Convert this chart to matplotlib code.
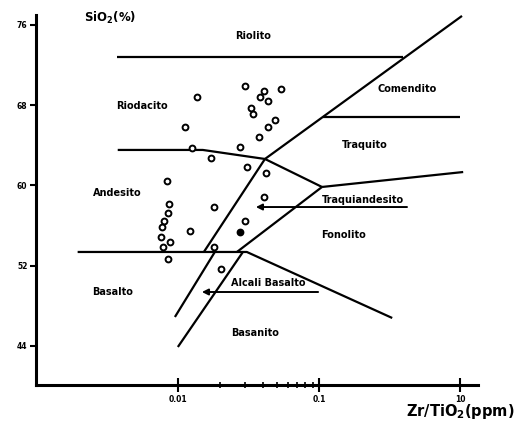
import matplotlib
matplotlib.use("Agg")
from matplotlib import pyplot as plt
import numpy as np

# sample points: Zr/TiO2 and SiO2 (%)
zr_tio2 = [0.0301, 0.0407, 0.0382, 0.0433, 0.0542, 0.01374, 0.0332, 0.0340,
           0.0491, 0.0433, 0.0113, 0.0378, 0.0126, 0.0275, 0.0171, 0.0310,
           0.0419, 0.00840, 0.0406, 0.00871, 0.0181, 0.00847, 0.00802,
           0.00773, 0.0300, 0.01217, 0.00764, 0.00885, 0.00787, 0.0180,
           0.00845, 0.0201]
sio2 = [69.87, 69.42, 68.82, 68.45, 69.57, 68.82, 67.75, 67.13,
        66.56, 65.78, 65.86, 64.83, 63.71, 63.87, 62.71, 61.81,
        61.21, 60.45, 58.85, 58.12, 57.88, 57.28, 56.41,
        55.86, 56.43, 55.43, 54.89, 54.32, 53.90, 53.84,
        52.65, 51.70]
# the one darker point
zr_filled = [0.0275]
sio2_filled = [55.36]

# field boundaries (x list, y list)
boundaries = [
    ([0.00369, 0.394], [72.8, 72.8]),                    # riolito base
    ([0.0414, 1.03], [62.64, 76.9]),                     # big diagonal
    ([0.01528, 0.0414], [53.37, 62.64]),                 # andesito / traquiandesito
    ([0.00375, 0.01502, 0.0414], [63.54, 63.54, 62.64]), # riodacito / andesito
    ([0.0414, 0.105], [62.64, 59.85]),
    ([0.105, 1.05], [59.85, 61.34]),
    ([0.105, 0.0262], [59.85, 53.37]),
    ([0.1067, 1.0], [66.83, 66.83]),                     # comendito / traquito
    ([0.00195, 0.0308, 0.330], [53.37, 53.37, 46.79]),   # basalto top
    ([0.01828, 0.00953], [53.37, 46.89]),
    ([0.0289, 0.0100], [53.37, 43.9]),
]

# arrows: (x_start, x_end, y)
arrows = [(0.42, 0.0357, 57.85), (0.0985, 0.0148, 49.38)]

field_names = ['Riolito', 'Riodacito', 'Comendito', 'Traquito', 'Andesito',
               'Traquiandesito', 'Fonolito', 'Basalto', 'Alcali Basalto', 'Basanito']
name_x = [0.034, 0.00556, 0.42, 0.212, 0.00375, 0.205, 0.148, 0.00346, 0.0435, 0.0352]
name_y = [74.9, 67.9, 69.6, 64.0, 59.25, 58.55, 55.06, 49.38, 50.28, 45.3]

yticks = [44, 52, 60, 68, 76]
xticks = [0.01, 0.1, 1]
xticklabels = ['0.01', '0.1', '10']

fig = plt.figure(figsize=(5.26, 4.26), dpi=100)
ax = fig.add_axes([0.068, 0.096, 0.841, 0.869])
ax.set_xscale('log')
ax.set_xlim(0.000985, 1.34)
ax.set_ylim(40.1, 77.0)

for bx, by in boundaries:
    ax.plot(bx, by, color='black', lw=1.6, solid_capstyle='butt')

for x0, x1, y in arrows:
    ax.annotate('', xy=(x1, y), xytext=(x0, y),
                arrowprops=dict(arrowstyle='-|>', color='black', lw=1.4,
                                mutation_scale=9, shrinkA=0, shrinkB=0))

ax.plot(zr_tio2, sio2, 'o', mfc='white', mec='black', mew=1.4, ms=4.2)
ax.plot(zr_filled, sio2_filled, 'o', mfc='black', mec='black', mew=1.4, ms=4.2)

for name, x, y in zip(field_names, name_x, name_y):
    ax.text(x, y, name, ha='center', va='center', fontsize=7, fontweight='bold')

for s in ['top', 'right']:
    ax.spines[s].set_visible(False)
ax.spines['left'].set_linewidth(2.2)
ax.spines['bottom'].set_linewidth(2.2)

ax.set_yticks(yticks)
ax.set_yticklabels([str(t) for t in yticks], fontsize=5.5, fontweight='bold')
ax.set_xticks(xticks)
ax.set_xticklabels(xticklabels, fontsize=5.5, fontweight='bold')
ax.set_xticks([k * 0.01 for k in range(2, 10)], minor=True)
ax.xaxis.set_minor_formatter(matplotlib.ticker.NullFormatter())
ax.tick_params(axis='y', direction='out', length=4, width=1.5, pad=2)
ax.tick_params(axis='x', which='major', direction='inout', length=10, width=1.5, pad=2)
ax.tick_params(axis='x', which='minor', direction='inout', length=5, width=1.2)
ax.tick_params(axis='y', which='minor', left=False)

fig.text(0.21, 0.958, r'SiO$_{\mathbf{2}}$(%)', fontsize=8.5, fontweight='bold',
         ha='center', va='center')
fig.text(0.978, 0.033, r'Zr/TiO$_{\mathbf{2}}$(ppm)', fontsize=10.5, fontweight='bold',
         ha='right', va='center')

fig.savefig('out.png', dpi=100)
